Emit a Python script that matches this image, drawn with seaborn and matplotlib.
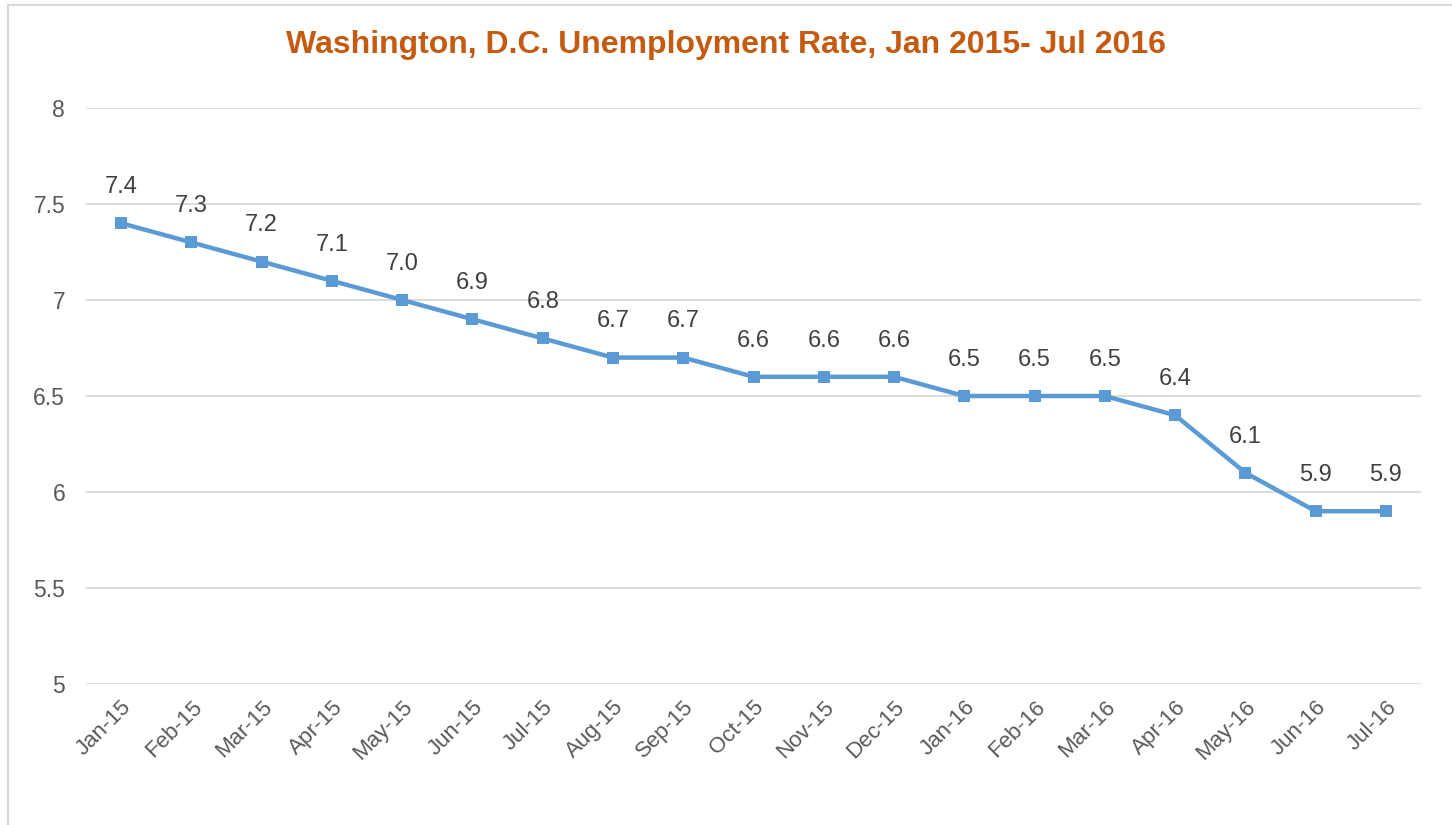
import matplotlib
matplotlib.use("Agg")
import matplotlib.pyplot as plt
import seaborn as sns
import pandas as pd
from matplotlib.patches import Rectangle

# data
months = ['Jan-15', 'Feb-15', 'Mar-15', 'Apr-15', 'May-15', 'Jun-15', 'Jul-15',
          'Aug-15', 'Sep-15', 'Oct-15', 'Nov-15', 'Dec-15', 'Jan-16', 'Feb-16',
          'Mar-16', 'Apr-16', 'May-16', 'Jun-16', 'Jul-16']
rate = [7.4, 7.3, 7.2, 7.1, 7.0, 6.9, 6.8, 6.7, 6.7, 6.6, 6.6, 6.6,
        6.5, 6.5, 6.5, 6.4, 6.1, 5.9, 5.9]
y_ticks = [5, 5.5, 6, 6.5, 7, 7.5, 8]
y_tick_labels = ['5', '5.5', '6', '6.5', '7', '7.5', '8']

df = pd.DataFrame({'month': months, 'rate': rate, 'pos': range(len(months))})

sns.set_theme(style='white')
plt.rcParams['font.family'] = ['Liberation Sans', 'DejaVu Sans']

fig = plt.figure(figsize=(14.52, 8.25), dpi=100)
ax = fig.add_axes([0.0592, 0.1709, 0.9195, 0.6982])

# chart border (light grey frame, only top/left visible)
fig.patches.append(Rectangle((8 / 1452, -0.05), 1.2, 1 - 5 / 825 + 0.05,
                             transform=fig.transFigure, fill=False,
                             edgecolor='#D9D9D9', linewidth=1.6))

sns.lineplot(data=df, x='pos', y='rate', ax=ax, color='#5B9BD5', linewidth=3.2,
             marker='s', markersize=8.5, markeredgewidth=0, zorder=3)

# data labels above each point
for i, v in enumerate(rate):
    ax.annotate(f'{v:.1f}', (i, v), xytext=(0, 26), textcoords='offset points',
                ha='center', va='center', fontsize=17, color='#404040')

ax.set_xlim(-0.5, len(months) - 0.5)
ax.set_ylim(5, 8)
ax.set_yticks(y_ticks)
ax.set_yticklabels(y_tick_labels)
ax.set_xticks(range(len(months)))
ax.set_xticklabels(months, rotation=45, ha='right', rotation_mode='anchor')
ax.tick_params(axis='y', length=0, pad=15, labelsize=16.5, labelcolor='#595959')
ax.tick_params(axis='x', length=0, pad=9, labelsize=16, labelcolor='#595959')
ax.grid(axis='y', color='#D9D9D9', linewidth=1.3)
ax.grid(axis='x', visible=False)
for s in ax.spines.values():
    s.set_visible(False)
ax.set_xlabel('')
ax.set_ylabel('')

fig.text(0.5, 1 - 45 / 825, 'Washington, D.C. Unemployment Rate, Jan 2015- Jul 2016',
         ha='center', va='center', fontsize=23, fontweight='bold', color='#C55A11')

fig.savefig('out.png', dpi=100, facecolor='white')
